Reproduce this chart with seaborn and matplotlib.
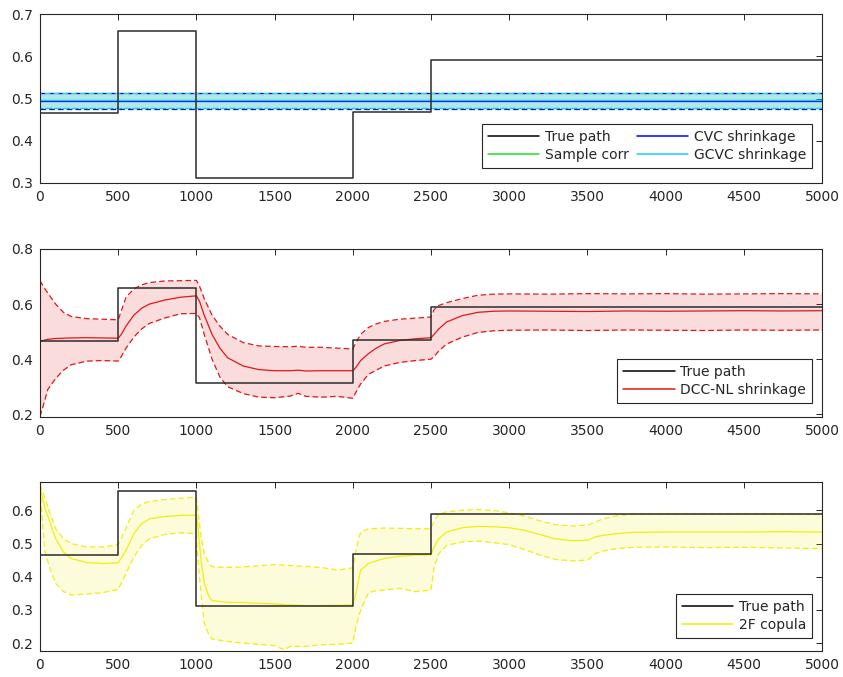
import numpy as np
import pandas as pd
import matplotlib
matplotlib.use("Agg")
import matplotlib.pyplot as plt
from matplotlib.lines import Line2D
import seaborn as sns

# ---------------------------------------------------------------------------
# True correlation path (piecewise constant regimes)
# ---------------------------------------------------------------------------
path_t = [0, 500, 1000, 2000, 2500, 5000]
path_rho = [0.465, 0.660, 0.312, 0.468, 0.590, 0.590]

# ---------------------------------------------------------------------------
# Panel 1: static estimators (mean and 90% band)
# ---------------------------------------------------------------------------
static_t = [0, 5000]
sample_mean = [0.496, 0.496]
sample_lo = [0.478, 0.478]
sample_hi = [0.514, 0.514]
cvc_mean = [0.495, 0.495]
cvc_lo = [0.476, 0.476]
cvc_hi = [0.512, 0.512]
gcvc_mean = [0.496, 0.496]
gcvc_lo = [0.477, 0.477]
gcvc_hi = [0.513, 0.513]

# ---------------------------------------------------------------------------
# Panel 2: DCC-NL shrinkage
# ---------------------------------------------------------------------------
dcc_t = [0, 20, 50, 100, 150, 200, 300, 400, 500,
         520, 550, 600, 650, 700, 800, 900, 1000,
         1020, 1050, 1100, 1150, 1200, 1300, 1400, 1500, 1600, 1650, 1700, 1800, 1900, 2000,
         2020, 2050, 2100, 2150, 2200, 2300, 2400, 2500,
         2520, 2550, 2600, 2700, 2800, 2900, 3000, 3250, 3500, 3750, 4000, 4250, 4500, 4750, 5000]
dcc_mean = [0.465, 0.468, 0.472, 0.475, 0.476, 0.477, 0.478, 0.477, 0.476,
            0.490, 0.520, 0.560, 0.585, 0.600, 0.615, 0.625, 0.630,
            0.610, 0.560, 0.490, 0.440, 0.405, 0.375, 0.362, 0.358, 0.358, 0.360, 0.357, 0.358, 0.358, 0.358,
            0.370, 0.395, 0.420, 0.440, 0.455, 0.468, 0.474, 0.478,
            0.490, 0.510, 0.535, 0.558, 0.570, 0.574, 0.575, 0.574, 0.573, 0.575, 0.574, 0.575, 0.576, 0.575, 0.576]
dcc_hi = [0.685, 0.665, 0.640, 0.600, 0.570, 0.555, 0.547, 0.545, 0.543,
          0.575, 0.625, 0.655, 0.670, 0.678, 0.684, 0.685, 0.686,
          0.665, 0.620, 0.560, 0.520, 0.490, 0.460, 0.448, 0.446, 0.445, 0.447, 0.443, 0.443, 0.440, 0.437,
          0.460, 0.490, 0.515, 0.528, 0.537, 0.545, 0.549, 0.553,
          0.580, 0.595, 0.605, 0.620, 0.632, 0.636, 0.637, 0.636, 0.638, 0.637, 0.638, 0.636, 0.637, 0.638, 0.637]
dcc_lo = [0.192, 0.230, 0.290, 0.330, 0.360, 0.380, 0.393, 0.395, 0.393,
          0.410, 0.440, 0.480, 0.510, 0.530, 0.550, 0.565, 0.566,
          0.550, 0.490, 0.400, 0.335, 0.300, 0.275, 0.262, 0.260, 0.266, 0.276, 0.265, 0.262, 0.265, 0.258,
          0.280, 0.310, 0.345, 0.360, 0.375, 0.388, 0.395, 0.400,
          0.410, 0.430, 0.455, 0.480, 0.497, 0.503, 0.505, 0.506, 0.504, 0.506, 0.505, 0.504, 0.506, 0.505, 0.506]

# ---------------------------------------------------------------------------
# Panel 3: two-factor copula
# ---------------------------------------------------------------------------
cop_t = [0, 30, 60, 100, 150, 200, 300, 400, 500,
         550, 600, 650, 700, 800, 900, 1000,
         1010, 1030, 1050, 1080, 1100, 1200, 1300, 1400, 1500, 1560, 1600, 1700, 1800, 1900, 2000,
         2020, 2050, 2100, 2150, 2200, 2300, 2400, 2500,
         2520, 2550, 2600, 2700, 2800, 2900, 3000, 3100, 3200, 3300, 3400, 3500,
         3550, 3600, 3700, 3800, 4000, 4250, 4500, 4750, 5000]
cop_mean = [0.668, 0.610, 0.570, 0.515, 0.475, 0.455, 0.443, 0.440, 0.442,
            0.480, 0.530, 0.560, 0.575, 0.582, 0.585, 0.586,
            0.550, 0.450, 0.380, 0.340, 0.328, 0.323, 0.322, 0.320, 0.318, 0.316, 0.315, 0.313, 0.313, 0.314, 0.315,
            0.350, 0.420, 0.440, 0.448, 0.455, 0.462, 0.465, 0.466,
            0.490, 0.515, 0.535, 0.548, 0.552, 0.551, 0.548, 0.540, 0.527, 0.514, 0.509, 0.510,
            0.520, 0.525, 0.531, 0.534, 0.535, 0.535, 0.535, 0.536, 0.535]
cop_hi = [0.678, 0.640, 0.597, 0.545, 0.515, 0.500, 0.490, 0.490, 0.497,
          0.547, 0.600, 0.620, 0.627, 0.633, 0.637, 0.640,
          0.600, 0.520, 0.470, 0.440, 0.430, 0.428, 0.430, 0.433, 0.437, 0.435, 0.434, 0.431, 0.428, 0.420, 0.427,
          0.480, 0.535, 0.545, 0.546, 0.547, 0.546, 0.545, 0.545,
          0.570, 0.588, 0.596, 0.601, 0.603, 0.600, 0.593, 0.583, 0.568, 0.557, 0.553, 0.556,
          0.565, 0.575, 0.585, 0.589, 0.590, 0.589, 0.590, 0.589, 0.588]
cop_lo = [0.665, 0.480, 0.430, 0.380, 0.355, 0.345, 0.348, 0.352, 0.362,
          0.410, 0.460, 0.495, 0.515, 0.528, 0.533, 0.530,
          0.450, 0.350, 0.260, 0.225, 0.212, 0.205, 0.200, 0.196, 0.192, 0.180, 0.190, 0.190, 0.195, 0.196, 0.200,
          0.250, 0.300, 0.352, 0.358, 0.360, 0.365, 0.355, 0.360,
          0.430, 0.470, 0.495, 0.505, 0.508, 0.503, 0.497, 0.482, 0.465, 0.452, 0.448, 0.450,
          0.470, 0.478, 0.486, 0.489, 0.490, 0.488, 0.489, 0.487, 0.485]

# ---------------------------------------------------------------------------
# Styling
# ---------------------------------------------------------------------------
sns.set_style("white")
plt.rcParams["font.family"] = ["DejaVu Sans"]
plt.rcParams["font.size"] = 10
plt.rcParams["axes.linewidth"] = 0.8

C_PATH = "#2b2b2b"
C_BLUE = "#0000ff"
C_GREEN = "#22dd22"
C_CYAN = "#18d0f0"
C_RED = "#e01818"
C_YEL = "#f0ee10"

fig = plt.figure(figsize=(8.43, 6.77), dpi=100)
left, width, height = 40 / 843, 782 / 843, 169 / 677
ax1 = fig.add_axes([left, 1 - 183 / 677, width, height])
ax2 = fig.add_axes([left, 1 - 417 / 677, width, 168 / 677])
ax3 = fig.add_axes([left, 1 - 651 / 677, width, height])


def draw_path(ax):
    df = pd.DataFrame({"t": path_t, "rho": path_rho})
    sns.lineplot(data=df, x="t", y="rho", ax=ax, color=C_PATH, lw=1.1,
                 drawstyle="steps-post", estimator=None, legend=False)


def draw_band(ax, t, mean, lo, hi, color, fill_alpha, lw=0.9, phase=0.0):
    dash = (phase, (4.5, 2.5))
    ax.fill_between(t, lo, hi, color=color, alpha=fill_alpha, lw=0)
    sns.lineplot(x=t, y=hi, ax=ax, color=color, lw=lw, linestyle=dash,
                 estimator=None, legend=False)
    sns.lineplot(x=t, y=lo, ax=ax, color=color, lw=lw, linestyle=dash,
                 estimator=None, legend=False)
    sns.lineplot(x=t, y=mean, ax=ax, color=color, lw=lw,
                 estimator=None, legend=False)


def style_axes(ax, ylim, yticks):
    ax.set_xlim(0, 5000)
    ax.set_ylim(*ylim)
    ax.set_xticks(np.arange(0, 5001, 500))
    ax.set_yticks(yticks)
    ax.set_yticklabels([f"{v:g}" for v in yticks])
    ax.set_xlabel("")
    ax.set_ylabel("")
    ax.tick_params(direction="in", top=True, right=True, length=4, width=0.7,
                   colors="#262626", labelsize=10, pad=5)
    for s in ax.spines.values():
        s.set_visible(True)
        s.set_color("#262626")
        s.set_linewidth(0.8)


def legend(ax, entries, ncol, anchor):
    handles = [Line2D([], [], color=c, lw=1.1) for _, c in entries]
    labels = [n for n, _ in entries]
    leg = ax.legend(handles, labels, ncol=ncol, loc="lower right",
                    bbox_to_anchor=anchor, fontsize=10, frameon=True,
                    fancybox=False, framealpha=1, edgecolor="#262626",
                    handlelength=3.7, handletextpad=0.4, borderpad=0.42,
                    labelspacing=0.3, columnspacing=0.6, borderaxespad=0)
    leg.get_frame().set_linewidth(0.8)


# Panel 1
draw_band(ax1, static_t, sample_mean, sample_lo, sample_hi, C_GREEN, 0.10, phase=2.0)
draw_band(ax1, static_t, cvc_mean, cvc_lo, cvc_hi, C_BLUE, 0.05, phase=0.0)
draw_band(ax1, static_t, gcvc_mean, gcvc_lo, gcvc_hi, C_CYAN, 0.22, phase=3.5)
draw_path(ax1)
style_axes(ax1, (0.3, 0.7), [0.3, 0.4, 0.5, 0.6, 0.7])
legend(ax1, [("True path", "black"), ("Sample corr", C_GREEN),
             ("CVC shrinkage", C_BLUE), ("GCVC shrinkage", C_CYAN)],
       2, (0.987, 0.089))

# Panel 2
draw_band(ax2, dcc_t, dcc_mean, dcc_lo, dcc_hi, C_RED, 0.15)
draw_path(ax2)
style_axes(ax2, (0.19, 0.8), [0.2, 0.4, 0.6, 0.8])
legend(ax2, [("True path", "black"), ("DCC-NL shrinkage", C_RED)], 1, (0.987, 0.083))

# Panel 3
draw_band(ax3, cop_t, cop_mean, cop_lo, cop_hi, C_YEL, 0.15)
draw_path(ax3)
style_axes(ax3, (0.176, 0.686), [0.2, 0.3, 0.4, 0.5, 0.6])
legend(ax3, [("True path", "black"), ("2F copula", C_YEL)], 1, (0.987, 0.077))

fig.savefig("out.png", dpi=100)
